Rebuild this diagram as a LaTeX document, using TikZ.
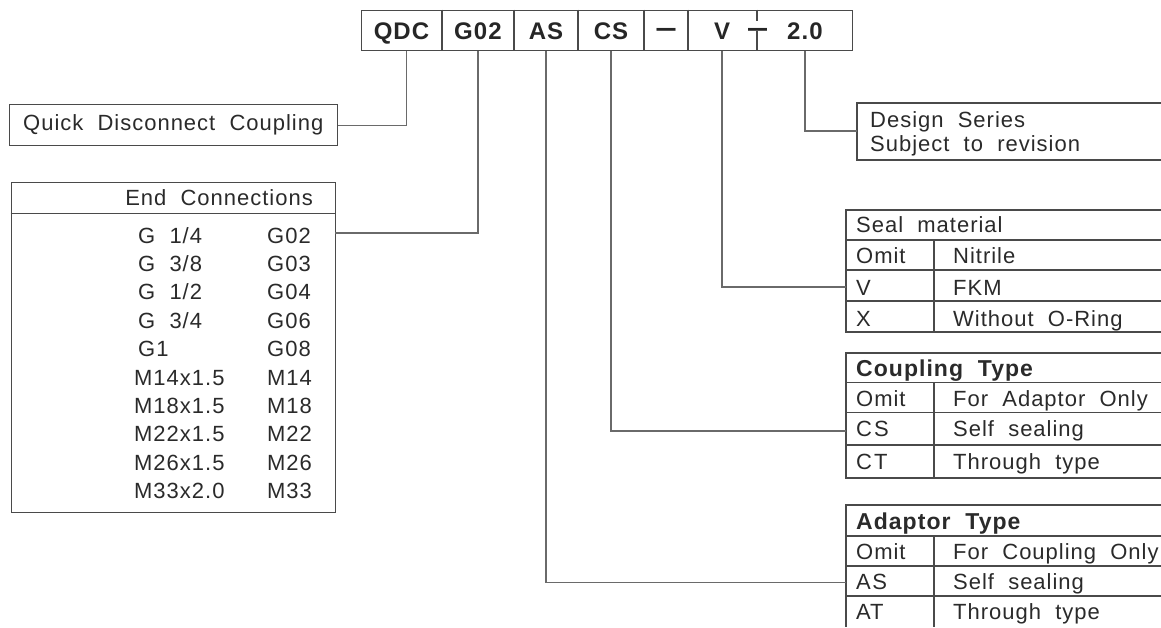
\documentclass[tikz,border=0pt]{standalone}
\usepackage{fontspec}
\setmainfont{Liberation Sans}[LetterSpace=4.5,WordSpace=2]
\definecolor{textc}{HTML}{2A2A2A}
\definecolor{boxc}{HTML}{4A4A4A}
\definecolor{leadc}{HTML}{6A6A6A}
\tikzset{
  boxline/.style={draw=boxc, line width=1.3pt},
  leadline/.style={draw=leadc, line width=1.3pt},
  frame/.style={boxline, anchor=north west, inner sep=0pt},
  txt/.style={anchor=base west, inner sep=0pt, text=textc, font=\fontsize{22}{26}\selectfont},
  txtb/.style={anchor=base west, inner sep=0pt, text=textc, font=\fontsize{23}{27}\selectfont\bfseries},
  topt/.style={anchor=base, inner sep=0pt, text=black!85, font=\fontsize{24}{28}\selectfont\bfseries},
  dasht/.style={anchor=base, inner sep=0pt, text=black!85, font=\fontsize{19}{22}\selectfont\bfseries\addfontfeatures{LetterSpace=0}},
}
\newcommand{\thickdash}{\scalebox{1}[1.5]{—}}
\begin{document}
\begin{tikzpicture}[x=1pt,y=-1pt]
\useasboundingbox (0,0) rectangle (1161,627);
% top code box
\node[frame, minimum width=491pt, minimum height=40.5pt] (top) at (361,9.5) {};
\foreach \xx in {442,514,578,644,688} \draw[boxline] (\xx,9.5) -- (\xx,50);
\draw[boxline] (757,9.5) -- (757,21);
\draw[boxline] (757,31) -- (757,50);
\node[topt] (qdc) at (401.5,39) {QDC};
\node[topt] (g02) at (478,39) {G02};
\node[topt] (as) at (546,39) {AS};
\node[topt] (cs) at (611,39) {CS};
\node[dasht] (dash1) at (666,37.7) {\thickdash};
\node[topt] (v) at (722,39) {V};
\node[dasht] (dash2) at (757.5,37.7) {\thickdash};
\node[topt] (rev) at (805,39) {2.0};

% Quick disconnect coupling
\node[frame, minimum width=328pt, minimum height=41pt] (quick) at (9,104) {};
\node[txt] (quicktxt) at (23,130.7) {Quick Disconnect Coupling};
\draw[leadline] ([xshift=5pt]qdc.center |- top.south) |- (quick.east);

% End connections
\node[frame, minimum width=324.3pt, minimum height=330.3pt] (endbox) at (10.7,181.7) {};
\draw[boxline] (10.7,213.3) -- (335,213.3);
\node[txt, anchor=base east] (endhead) at (313,205.7) {End Connections};
\node[txt] (e1a) at (138,243) {G 1/4};   \node[txt] (e1b) at (267,243) {G02};
\node[txt] (e2a) at (138,271.4) {G 3/8}; \node[txt] (e2b) at (267,271.4) {G03};
\node[txt] (e3a) at (138,299.8) {G 1/2}; \node[txt] (e3b) at (267,299.8) {G04};
\node[txt] (e4a) at (138,328.2) {G 3/4}; \node[txt] (e4b) at (267,328.2) {G06};
\node[txt] (e5a) at (138,356.6) {G1};    \node[txt] (e5b) at (267,356.6) {G08};
\node[txt] (e6a) at (134,385) {M14x1.5}; \node[txt] (e6b) at (267,385) {M14};
\node[txt] (e7a) at (134,413.4) {M18x1.5}; \node[txt] (e7b) at (267,413.4) {M18};
\node[txt] (e8a) at (134,441.8) {M22x1.5}; \node[txt] (e8b) at (267,441.8) {M22};
\node[txt] (e9a) at (134,470.2) {M26x1.5}; \node[txt] (e9b) at (267,470.2) {M26};
\node[txt] (e10a) at (134,498.6) {M33x2.0}; \node[txt] (e10b) at (267,498.6) {M33};
\coordinate (g02in) at (335,233);
\draw[leadline] (g02.center |- top.south) |- (g02in);

% Design series
\draw[boxline] (1161,103) -| (857,160) -- (1161,160);
\node[txt] (ds1) at (870,127) {Design Series};
\node[txt] (ds2) at (870,151.5) {Subject to revision};
\coordinate (dsin) at (857,131);
\draw[leadline] (rev.center |- top.south) |- (dsin);

% Seal material
\draw[boxline] (1161,210) -| (846,332) -- (1161,332);
\foreach \yy in {240,270,301} \draw[boxline] (846,\yy) -- (1161,\yy);
\draw[boxline] (934,240) -- (934,332);
\node[txt] (sh) at (856,232.3) {Seal material};
\node[txt] (s1a) at (856,263.3) {Omit}; \node[txt] (s1b) at (953,263.3) {Nitrile};
\node[txt] (s2a) at (856,295) {V};      \node[txt] (s2b) at (953,295) {FKM};
\node[txt] (s3a) at (856,326.5) {X};    \node[txt] (s3b) at (953,326.5) {Without O-Ring};
\coordinate (sealin) at (846,287);
\draw[leadline] (v.center |- top.south) |- (sealin);

% Coupling type
\draw[boxline] (1161,353) -| (846,478) -- (1161,478);
\foreach \yy in {382.5,412.5,445} \draw[boxline] (846,\yy) -- (1161,\yy);
\draw[boxline] (934,382.5) -- (934,478);
\node[txtb] (ch) at (856,376.7) {Coupling Type};
\node[txt] (c1a) at (856,406.7) {Omit};        \node[txt] (c1b) at (953,406.7) {For Adaptor Only};
\node[txt] (c2a) at (856,436.7) {C\kern2pt S}; \node[txt] (c2b) at (953,436.7) {Self sealing};
\node[txt] (c3a) at (856,469.3) {C\kern2pt T}; \node[txt] (c3b) at (953,469.3) {Through type};
\coordinate (coupin) at (846,431);
\draw[leadline] (cs.center |- top.south) |- (coupin);

% Adaptor type
\draw[boxline] (1161,505) -| (846,627);
\foreach \yy in {536,566,596} \draw[boxline] (846,\yy) -- (1161,\yy);
\draw[boxline] (934,536) -- (934,627);
\node[txtb] (ah) at (856,529) {Adaptor Type};
\node[txt] (a1a) at (856,559.3) {Omit};          \node[txt] (a1b) at (953,559.3) {For Coupling Only};
\node[txt] (a2a) at (856,589.3) {A\kern1.5pt S}; \node[txt] (a2b) at (953,589.3) {Self sealing};
\node[txt] (a3a) at (856,619.3) {AT};            \node[txt] (a3b) at (953,619.3) {Through type};
\coordinate (adin) at (846,582.5);
\draw[leadline] (as.center |- top.south) |- (adin);
\end{tikzpicture}
\end{document}
